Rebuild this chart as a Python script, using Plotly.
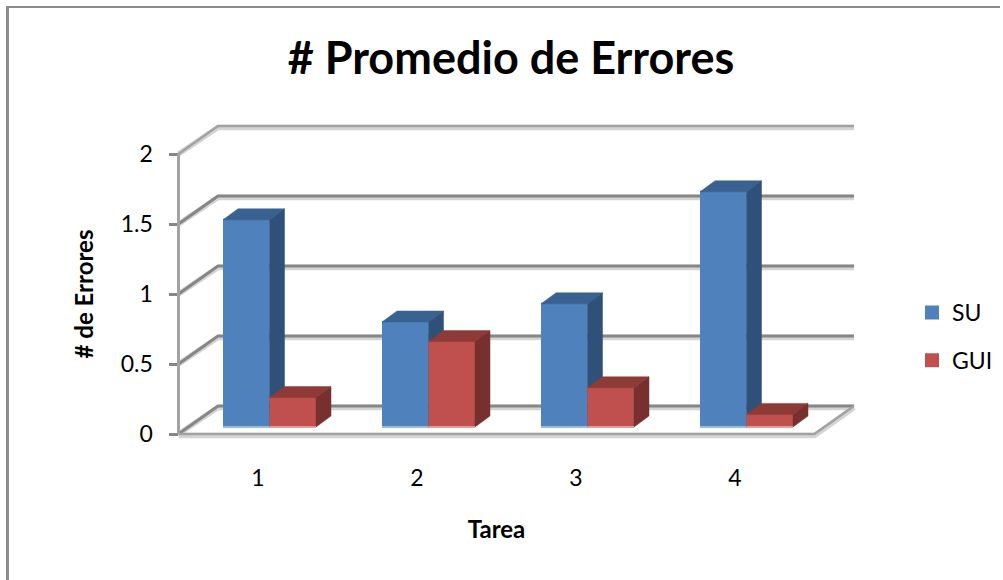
import plotly.graph_objects as go

categories = [1, 2, 3, 4]
su_values = [1.48, 0.75, 0.88, 1.68]
gui_values = [0.21, 0.61, 0.28, 0.09]
y_ticks = [0, 0.5, 1, 1.5, 2]
y_tick_labels = ["0", "0.5", "1", "1.5", "2"]

W, H = 1003, 580
PX_X = 159.0      # pixels per category
PX_Y = 140.0      # pixels per unit of value
LEFT, BOTTOM = 178.5, 434.0
DEPTH_X, DEPTH_Y = 39.5 / PX_X, 28 / PX_Y        # floor depth in axis units
XMIN, XMAX = 0.5, 4.5                            # the front edge of the floor
YMIN, YMAX = 0, 2
PAD = 6                                          # room so that thick lines are not clipped
BAR_W = 46.5 / PX_X
BAR_X_SHIFT = 11.5 / PX_X
BAR_BASE = 7 / PX_Y
FACE_X, FACE_Y = 15 / PX_X, 11 / PX_Y             # depth of a bar

FONT = "Lato, Carlito, Calibri, sans-serif"
GRID = "#868686"
GRID_LIGHT = "#a2a2a2"
GRID_SOFT = "#d4d4d4"
WALL = ("x2", "y2")

fig = go.Figure()

# front axes: they carry the ticks and the titles
fig.add_trace(go.Scatter(x=categories, y=[None] * len(categories), mode="lines",
                         showlegend=False, hoverinfo="skip"))


def line(xs, ys, color, width, axes=WALL):
    fig.add_trace(go.Scatter(x=xs, y=ys, mode="lines", showlegend=False, hoverinfo="skip",
                             xaxis=axes[0], yaxis=axes[1],
                             line=dict(color=color, width=width)))


def poly(xs, ys, color, axes):
    fig.add_trace(go.Scatter(x=xs, y=ys, mode="lines", fill="toself", fillcolor=color,
                             line=dict(color=color, width=0.5), showlegend=False,
                             hoverinfo="skip", xaxis=axes[0], yaxis=axes[1]))


# back wall and floor
for soft in (True, False):
    shift = -1.5 / PX_Y if soft else 0
    for v in y_ticks:
        outer = v == y_ticks[-1]
        color = GRID_SOFT if soft else (GRID_LIGHT if outer else GRID)
        width = 5.5 if soft else (2.5 if outer else 3)
        line([XMIN, XMIN + DEPTH_X, XMAX + DEPTH_X], [v, v + DEPTH_Y + shift, v + DEPTH_Y + shift], color, width)
    line([XMIN, XMAX, XMAX + DEPTH_X], [shift, shift, DEPTH_Y + shift],
         GRID_SOFT if soft else GRID_LIGHT, 5.5 if soft else 2.5)
line([XMIN, XMIN], [0, 2], GRID_LIGHT, 3)


def series(name, values, offset, front, top, side, edge, axes):
    xs = [c + BAR_X_SHIFT for c in categories]
    fig.add_trace(go.Bar(name=name, x=xs, y=values, base=BAR_BASE, width=BAR_W - 2 / PX_X,
                         offset=offset + 1 / PX_X, legendgroup=name, hoverinfo="skip",
                         marker=dict(color=front, line=dict(color=front, width=2)),
                         xaxis=axes[0], yaxis=axes[1]))
    for x, v in zip(xs, values):
        x0 = x + offset
        x1 = x0 + BAR_W
        t = BAR_BASE + v
        poly([x0, x1, x1 + FACE_X, x0 + FACE_X, x0], [t, t, t + FACE_Y, t + FACE_Y, t], top, axes)
        poly([x1, x1 + FACE_X, x1 + FACE_X, x1, x1],
             [BAR_BASE, BAR_BASE + FACE_Y, t + FACE_Y, t, BAR_BASE], side, axes)
        line([x0, x1], [BAR_BASE, BAR_BASE], edge, 2, axes)


series("SU", su_values, -BAR_W, "#4F81BD", "#3A6291", "#2F5078", "#9DB9DC", ("x3", "y3"))
series("GUI", gui_values, 0, "#C0504D", "#8E3B38", "#78302E", "#DDA09E", ("x4", "y4"))

x_domain = [LEFT / W, (LEFT + (XMAX - XMIN) * PX_X) / W]
y_domain = [(H - BOTTOM) / H, (H - BOTTOM + (YMAX - YMIN) * PX_Y) / H]

wall_x_range = [XMIN - PAD / PX_X, XMAX + DEPTH_X + PAD / PX_X]
wall_y_range = [YMIN - PAD / PX_Y, YMAX + DEPTH_Y + PAD / PX_Y]
wall_x_domain = [(LEFT - PAD) / W, (LEFT + (wall_x_range[1] - XMIN) * PX_X) / W]
wall_y_domain = [(H - BOTTOM - PAD) / H, (H - BOTTOM + (wall_y_range[1] - YMIN) * PX_Y) / H]

wall_x = dict(domain=wall_x_domain, range=wall_x_range, visible=False, fixedrange=True,
              automargin=False, anchor="y2")
wall_y = dict(domain=wall_y_domain, range=wall_y_range, visible=False, fixedrange=True,
              automargin=False, anchor="x2")
over_x = dict(range=wall_x_range, visible=False, fixedrange=True, automargin=False, overlaying="x2")
over_y = dict(range=wall_y_range, visible=False, fixedrange=True, automargin=False, overlaying="y2")

fig.update_layout(
    width=W, height=H, autosize=False,
    margin=dict(l=0, r=0, t=0, b=0, autoexpand=False),
    paper_bgcolor="white", plot_bgcolor="rgba(0,0,0,0)",
    font=dict(family=FONT, color="black", size=23),
    barmode="overlay",
    title=dict(text="<b># Promedio de Errores</b>", font=dict(size=45, family=FONT, color="black"),
               x=511 / W, xanchor="center", y=1 - 58 / H, yanchor="middle"),
    xaxis=dict(domain=x_domain, range=[XMIN, XMAX], tickmode="array", tickvals=categories,
               ticktext=[str(c) for c in categories], showgrid=False, zeroline=False, showline=False,
               ticks="", ticklabelstandoff=28, tickfont=dict(size=23), fixedrange=True, automargin=False,
               title=dict(text="<b>Tarea</b>", font=dict(size=24), standoff=31)),
    yaxis=dict(domain=y_domain, range=[YMIN, YMAX], tickmode="array", tickvals=y_ticks,
               ticktext=y_tick_labels, showgrid=False, zeroline=False, showline=False,
               ticks="outside", ticklen=9, tickwidth=2.5, tickcolor=GRID, ticklabelstandoff=11,
               tickfont=dict(size=23), fixedrange=True, automargin=False,
               title=dict(text="<b># de Errores</b>", font=dict(size=24), standoff=20)),
    xaxis2=wall_x, yaxis2=wall_y, xaxis3=over_x, yaxis3=over_y, xaxis4=over_x, yaxis4=over_y,
    legend=dict(x=912 / W, y=1 - 291 / H, xanchor="left", yanchor="top", traceorder="grouped",
                font=dict(size=23), tracegroupgap=15, bgcolor="rgba(0,0,0,0)", itemclick=False,
                itemdoubleclick=False),
    shapes=[
        dict(type="line", xref="paper", yref="paper", x0=7.5 / W, x1=7.5 / W, y0=0, y1=1 - 6 / H,
             line=dict(color="#8c8c8c", width=3)),
        dict(type="line", xref="paper", yref="paper", x0=6 / W, x1=1000 / W, y0=1 - 7 / H, y1=1 - 7 / H,
             line=dict(color="#8c8c8c", width=2)),
    ],
)

fig.write_html("out.html", config={"displayModeBar": False},
               post_script="document.body.style.margin='0';")
